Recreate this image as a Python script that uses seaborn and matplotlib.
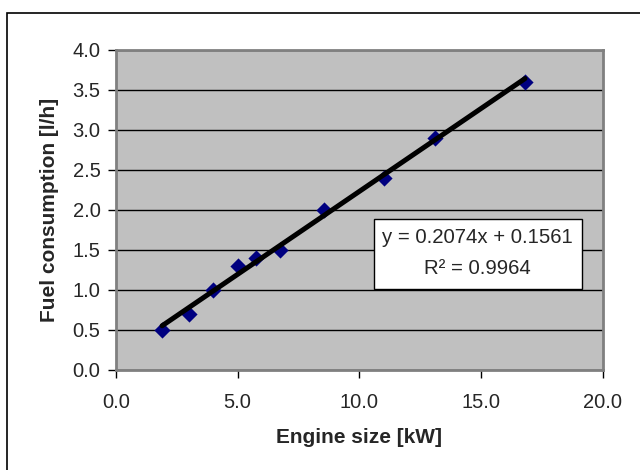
import seaborn as sns
import matplotlib.pyplot as plt
from matplotlib.patches import Rectangle
import pandas as pd

# Data
engine_kw = [1.9, 3.0, 4.0, 5.0, 5.75, 6.75, 8.55, 11.0, 13.1, 16.8]
fuel_lh = [0.5, 0.7, 1.0, 1.3, 1.4, 1.5, 2.0, 2.4, 2.9, 3.6]
x_ticks = [0, 5, 10, 15, 20]
y_ticks = [0, 0.5, 1.0, 1.5, 2.0, 2.5, 3.0, 3.5, 4.0]
eq_line = "y = 0.2074x + 0.1561"
r2_line = "R² = 0.9964"

df = pd.DataFrame({'Engine size [kW]': engine_kw, 'Fuel consumption [l/h]': fuel_lh})

sns.set_style('white')
plt.rcParams['font.family'] = ['Liberation Sans', 'DejaVu Sans']

fig = plt.figure(figsize=(6.4, 4.7), dpi=100)
ax = fig.add_axes([0.181, 0.213, 0.761, 0.681])
ax.set_facecolor('#C0C0C0')

sns.regplot(
    data=df, x='Engine size [kW]', y='Fuel consumption [l/h]', ax=ax,
    ci=None, marker='D', truncate=True,
    scatter_kws={'color': '#000080', 's': 68, 'linewidths': 0, 'alpha': 1, 'zorder': 3},
    line_kws={'color': 'black', 'lw': 3.6, 'zorder': 4, 'solid_capstyle': 'round'}
)

ax.set_xlim(0, 20)
ax.set_ylim(0, 4)
ax.set_xticks(x_ticks)
ax.set_yticks(y_ticks)
ax.set_xticklabels([f'{v:.1f}' for v in x_ticks])
ax.set_yticklabels([f'{v:.1f}' for v in y_ticks])
ax.yaxis.grid(True, color='black', lw=1)
ax.set_axisbelow(True)
ax.tick_params(axis='both', direction='out', length=6, width=1, color='black',
               labelsize=14.5, pad=5, left=True, bottom=True)
ax.tick_params(axis='x', pad=10.5)
for s in ax.spines.values():
    s.set_color('#808080')
    s.set_linewidth(2)

ax.set_xlabel('Engine size [kW]', fontsize=15, fontweight='bold', labelpad=12)
ax.set_ylabel('Fuel consumption [l/h]', fontsize=15, fontweight='bold', labelpad=10)

# trendline equation box
ax.add_patch(Rectangle((0.530, 0.253), 0.427, 0.219, transform=ax.transAxes,
                       fc='white', ec='black', lw=1, zorder=5))
ax.text(0.743, 0.4125, eq_line, transform=ax.transAxes, ha='center', va='center',
        fontsize=14.7, zorder=6)
ax.text(0.743, 0.3156, r2_line, transform=ax.transAxes, ha='center', va='center',
        fontsize=14.7, zorder=6)

# outer chart frame
fig.patches.append(Rectangle((7 / 640, -0.1), 1.2, 1.1 - 13 / 470, transform=fig.transFigure,
                             fill=False, ec='black', lw=1.2))

plt.savefig('out.png', dpi=100)
